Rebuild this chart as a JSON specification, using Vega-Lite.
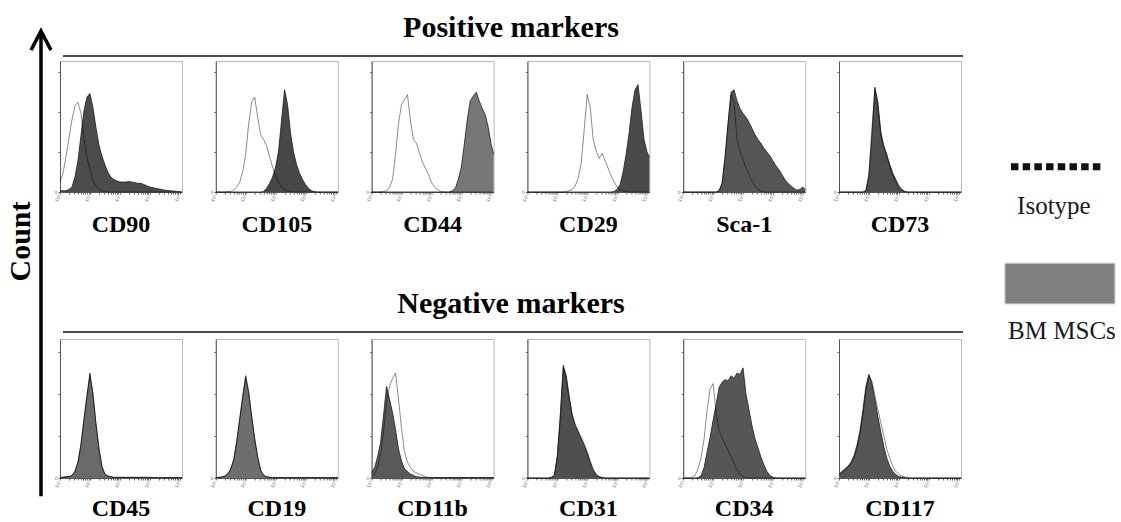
{
  "$schema": "https://vega.github.io/schema/vega-lite/v6.json",
  "background": "white",
  "padding": {"left": 5, "top": 13, "right": 0, "bottom": 0},
  "config": {
    "font": "Liberation Serif",
    "view": {"stroke": "#b8b8b8", "strokeWidth": 1},
    "axis": {"grid": false, "labelFont": "DejaVu Sans", "labelFontSize": 4.5, "labelColor": "#777", "tickColor": "#666", "domainColor": "#555", "tickSize": 2, "labelPadding": 1, "labelOverlap": false, "labelFlush": false}
  },
  "datasets": {
    "pos": [
      {"m":"CD90","lg":0,"iso":8,"bm":1},{"m":"CD90","lg":0.1,"iso":15,"bm":1},{"m":"CD90","lg":0.2,"iso":28,"bm":1},{"m":"CD90","lg":0.3,"iso":43,"bm":2},{"m":"CD90","lg":0.4,"iso":58,"bm":4},{"m":"CD90","lg":0.5,"iso":69,"bm":12},{"m":"CD90","lg":0.6,"iso":72,"bm":25},{"m":"CD90","lg":0.7,"iso":63,"bm":45},{"m":"CD90","lg":0.8,"iso":43,"bm":65},{"m":"CD90","lg":0.9,"iso":28,"bm":76},{"m":"CD90","lg":1,"iso":18,"bm":79},{"m":"CD90","lg":1.1,"iso":9,"bm":68},{"m":"CD90","lg":1.2,"iso":5,"bm":52},{"m":"CD90","lg":1.3,"iso":2,"bm":38},{"m":"CD90","lg":1.4,"iso":1,"bm":29},{"m":"CD90","lg":1.5,"iso":0.5,"bm":22},{"m":"CD90","lg":1.6,"iso":0,"bm":16},{"m":"CD90","lg":1.7,"iso":0,"bm":12},{"m":"CD90","lg":1.8,"iso":0,"bm":10},{"m":"CD90","lg":1.9,"iso":0,"bm":9},{"m":"CD90","lg":2,"iso":0,"bm":8},{"m":"CD90","lg":2.1,"iso":0,"bm":8},{"m":"CD90","lg":2.2,"iso":0,"bm":8},{"m":"CD90","lg":2.3,"iso":0,"bm":8.5},{"m":"CD90","lg":2.4,"iso":0,"bm":8},{"m":"CD90","lg":2.5,"iso":0,"bm":7.5},{"m":"CD90","lg":2.6,"iso":0,"bm":7},{"m":"CD90","lg":2.7,"iso":0,"bm":7},{"m":"CD90","lg":2.8,"iso":0,"bm":6},{"m":"CD90","lg":2.9,"iso":0,"bm":5},{"m":"CD90","lg":3,"iso":0,"bm":4},{"m":"CD90","lg":3.1,"iso":0,"bm":3.5},{"m":"CD90","lg":3.2,"iso":0,"bm":3},{"m":"CD90","lg":3.3,"iso":0,"bm":2.5},{"m":"CD90","lg":3.4,"iso":0,"bm":2},{"m":"CD90","lg":3.5,"iso":0,"bm":1.5},{"m":"CD90","lg":3.6,"iso":0,"bm":1.2},{"m":"CD90","lg":3.7,"iso":0,"bm":1},{"m":"CD90","lg":3.8,"iso":0,"bm":0.8},{"m":"CD90","lg":3.9,"iso":0,"bm":0.5},{"m":"CD90","lg":4,"iso":0,"bm":0.3},{"m":"CD90","lg":4.08,"iso":0,"bm":0},

      {"m":"CD105","lg":0,"iso":0,"bm":0},{"m":"CD105","lg":0.1,"iso":0,"bm":0},{"m":"CD105","lg":0.2,"iso":0,"bm":0},{"m":"CD105","lg":0.3,"iso":0,"bm":0},{"m":"CD105","lg":0.4,"iso":0.3,"bm":0},{"m":"CD105","lg":0.5,"iso":0.5,"bm":0},{"m":"CD105","lg":0.6,"iso":1.5,"bm":0},{"m":"CD105","lg":0.7,"iso":4,"bm":0},{"m":"CD105","lg":0.8,"iso":8,"bm":0},{"m":"CD105","lg":0.9,"iso":16,"bm":0},{"m":"CD105","lg":1,"iso":30,"bm":0},{"m":"CD105","lg":1.1,"iso":55,"bm":0},{"m":"CD105","lg":1.2,"iso":72,"bm":0},{"m":"CD105","lg":1.3,"iso":76,"bm":0},{"m":"CD105","lg":1.4,"iso":60,"bm":0},{"m":"CD105","lg":1.5,"iso":46,"bm":0},{"m":"CD105","lg":1.6,"iso":42,"bm":0.5},{"m":"CD105","lg":1.7,"iso":37,"bm":3},{"m":"CD105","lg":1.8,"iso":28,"bm":7},{"m":"CD105","lg":1.9,"iso":20,"bm":12},{"m":"CD105","lg":2,"iso":13,"bm":20},{"m":"CD105","lg":2.1,"iso":8,"bm":33},{"m":"CD105","lg":2.2,"iso":4,"bm":58},{"m":"CD105","lg":2.3,"iso":2,"bm":82},{"m":"CD105","lg":2.4,"iso":1,"bm":70},{"m":"CD105","lg":2.5,"iso":0.5,"bm":47},{"m":"CD105","lg":2.6,"iso":0,"bm":32},{"m":"CD105","lg":2.7,"iso":0,"bm":22},{"m":"CD105","lg":2.8,"iso":0,"bm":15},{"m":"CD105","lg":2.9,"iso":0,"bm":10},{"m":"CD105","lg":3,"iso":0,"bm":6},{"m":"CD105","lg":3.1,"iso":0,"bm":3},{"m":"CD105","lg":3.2,"iso":0,"bm":1},{"m":"CD105","lg":3.3,"iso":0,"bm":0.3},{"m":"CD105","lg":3.4,"iso":0,"bm":0},{"m":"CD105","lg":3.5,"iso":0,"bm":0},{"m":"CD105","lg":3.6,"iso":0,"bm":0},{"m":"CD105","lg":3.7,"iso":0,"bm":0},{"m":"CD105","lg":3.8,"iso":0,"bm":0},{"m":"CD105","lg":3.9,"iso":0,"bm":0},{"m":"CD105","lg":4,"iso":0,"bm":0},{"m":"CD105","lg":4.08,"iso":0,"bm":0},

      {"m":"CD44","lg":0,"iso":0,"bm":0},{"m":"CD44","lg":0.1,"iso":0,"bm":0},{"m":"CD44","lg":0.2,"iso":0,"bm":0},{"m":"CD44","lg":0.3,"iso":0,"bm":0},{"m":"CD44","lg":0.4,"iso":0.5,"bm":0},{"m":"CD44","lg":0.5,"iso":1,"bm":0},{"m":"CD44","lg":0.6,"iso":4,"bm":0},{"m":"CD44","lg":0.7,"iso":10,"bm":0},{"m":"CD44","lg":0.8,"iso":30,"bm":0},{"m":"CD44","lg":0.9,"iso":55,"bm":0},{"m":"CD44","lg":1,"iso":70,"bm":0},{"m":"CD44","lg":1.1,"iso":74,"bm":0},{"m":"CD44","lg":1.2,"iso":78,"bm":0},{"m":"CD44","lg":1.3,"iso":57,"bm":0},{"m":"CD44","lg":1.4,"iso":42,"bm":0},{"m":"CD44","lg":1.5,"iso":39,"bm":0},{"m":"CD44","lg":1.6,"iso":31,"bm":0},{"m":"CD44","lg":1.7,"iso":24,"bm":0},{"m":"CD44","lg":1.8,"iso":19,"bm":0},{"m":"CD44","lg":1.9,"iso":14,"bm":0},{"m":"CD44","lg":2,"iso":8,"bm":0},{"m":"CD44","lg":2.1,"iso":4,"bm":0},{"m":"CD44","lg":2.2,"iso":2,"bm":0},{"m":"CD44","lg":2.3,"iso":0.5,"bm":0},{"m":"CD44","lg":2.4,"iso":0,"bm":0},{"m":"CD44","lg":2.5,"iso":0,"bm":0},{"m":"CD44","lg":2.6,"iso":0,"bm":0},{"m":"CD44","lg":2.7,"iso":0,"bm":1},{"m":"CD44","lg":2.8,"iso":0,"bm":3},{"m":"CD44","lg":2.9,"iso":0,"bm":10},{"m":"CD44","lg":3,"iso":0,"bm":20},{"m":"CD44","lg":3.1,"iso":0,"bm":38},{"m":"CD44","lg":3.2,"iso":0,"bm":58},{"m":"CD44","lg":3.3,"iso":0,"bm":73},{"m":"CD44","lg":3.4,"iso":0,"bm":77},{"m":"CD44","lg":3.5,"iso":0,"bm":80},{"m":"CD44","lg":3.6,"iso":0,"bm":73},{"m":"CD44","lg":3.7,"iso":0,"bm":67},{"m":"CD44","lg":3.8,"iso":0,"bm":62},{"m":"CD44","lg":3.9,"iso":0,"bm":52},{"m":"CD44","lg":4,"iso":0,"bm":38},{"m":"CD44","lg":4.08,"iso":0,"bm":30},

      {"m":"CD29","lg":0,"iso":0,"bm":0},{"m":"CD29","lg":0.1,"iso":0,"bm":0},{"m":"CD29","lg":0.2,"iso":0,"bm":0},{"m":"CD29","lg":0.3,"iso":0,"bm":0},{"m":"CD29","lg":0.4,"iso":0,"bm":0},{"m":"CD29","lg":0.5,"iso":0,"bm":0},{"m":"CD29","lg":0.6,"iso":0,"bm":0},{"m":"CD29","lg":0.7,"iso":0,"bm":0},{"m":"CD29","lg":0.8,"iso":0,"bm":0},{"m":"CD29","lg":0.9,"iso":0,"bm":0},{"m":"CD29","lg":1,"iso":0,"bm":0},{"m":"CD29","lg":1.1,"iso":0,"bm":0},{"m":"CD29","lg":1.2,"iso":0,"bm":0},{"m":"CD29","lg":1.3,"iso":0.5,"bm":0},{"m":"CD29","lg":1.4,"iso":1,"bm":0},{"m":"CD29","lg":1.5,"iso":2,"bm":0},{"m":"CD29","lg":1.6,"iso":5,"bm":0},{"m":"CD29","lg":1.7,"iso":11,"bm":0},{"m":"CD29","lg":1.8,"iso":23,"bm":0},{"m":"CD29","lg":1.9,"iso":50,"bm":0},{"m":"CD29","lg":2,"iso":78,"bm":0},{"m":"CD29","lg":2.1,"iso":68,"bm":0},{"m":"CD29","lg":2.2,"iso":42,"bm":0},{"m":"CD29","lg":2.3,"iso":33,"bm":0},{"m":"CD29","lg":2.4,"iso":27,"bm":0},{"m":"CD29","lg":2.5,"iso":31,"bm":0},{"m":"CD29","lg":2.6,"iso":25,"bm":0},{"m":"CD29","lg":2.7,"iso":19,"bm":0},{"m":"CD29","lg":2.8,"iso":13,"bm":0},{"m":"CD29","lg":2.9,"iso":8,"bm":0.5},{"m":"CD29","lg":3,"iso":4,"bm":2},{"m":"CD29","lg":3.1,"iso":2,"bm":6},{"m":"CD29","lg":3.2,"iso":1,"bm":16},{"m":"CD29","lg":3.3,"iso":0.3,"bm":30},{"m":"CD29","lg":3.4,"iso":0,"bm":47},{"m":"CD29","lg":3.5,"iso":0,"bm":68},{"m":"CD29","lg":3.6,"iso":0,"bm":82},{"m":"CD29","lg":3.7,"iso":0,"bm":86},{"m":"CD29","lg":3.8,"iso":0,"bm":65},{"m":"CD29","lg":3.9,"iso":0,"bm":42},{"m":"CD29","lg":4,"iso":0,"bm":32},{"m":"CD29","lg":4.08,"iso":0,"bm":28},

      {"m":"Sca-1","lg":0,"iso":0,"bm":0},{"m":"Sca-1","lg":0.1,"iso":0,"bm":0},{"m":"Sca-1","lg":0.2,"iso":0,"bm":0},{"m":"Sca-1","lg":0.3,"iso":0,"bm":0},{"m":"Sca-1","lg":0.4,"iso":0,"bm":0},{"m":"Sca-1","lg":0.5,"iso":0,"bm":0},{"m":"Sca-1","lg":0.6,"iso":0,"bm":0},{"m":"Sca-1","lg":0.7,"iso":0,"bm":0},{"m":"Sca-1","lg":0.8,"iso":0,"bm":0},{"m":"Sca-1","lg":0.9,"iso":0,"bm":0},{"m":"Sca-1","lg":1,"iso":0,"bm":0},{"m":"Sca-1","lg":1.1,"iso":0,"bm":0},{"m":"Sca-1","lg":1.2,"iso":1,"bm":1},{"m":"Sca-1","lg":1.3,"iso":7,"bm":7},{"m":"Sca-1","lg":1.4,"iso":28,"bm":28},{"m":"Sca-1","lg":1.5,"iso":55,"bm":55},{"m":"Sca-1","lg":1.6,"iso":78,"bm":80},{"m":"Sca-1","lg":1.7,"iso":72,"bm":82},{"m":"Sca-1","lg":1.8,"iso":42,"bm":73},{"m":"Sca-1","lg":1.9,"iso":33,"bm":67},{"m":"Sca-1","lg":2,"iso":26,"bm":63},{"m":"Sca-1","lg":2.1,"iso":19,"bm":60},{"m":"Sca-1","lg":2.2,"iso":14,"bm":56},{"m":"Sca-1","lg":2.3,"iso":9,"bm":51},{"m":"Sca-1","lg":2.4,"iso":5,"bm":46},{"m":"Sca-1","lg":2.5,"iso":2,"bm":42},{"m":"Sca-1","lg":2.6,"iso":0.5,"bm":39},{"m":"Sca-1","lg":2.7,"iso":0,"bm":35},{"m":"Sca-1","lg":2.8,"iso":0,"bm":32},{"m":"Sca-1","lg":2.9,"iso":0,"bm":29},{"m":"Sca-1","lg":3,"iso":0,"bm":25},{"m":"Sca-1","lg":3.1,"iso":0,"bm":21},{"m":"Sca-1","lg":3.2,"iso":0,"bm":18},{"m":"Sca-1","lg":3.3,"iso":0,"bm":14},{"m":"Sca-1","lg":3.4,"iso":0,"bm":10},{"m":"Sca-1","lg":3.5,"iso":0,"bm":7},{"m":"Sca-1","lg":3.6,"iso":0,"bm":5},{"m":"Sca-1","lg":3.7,"iso":0,"bm":3},{"m":"Sca-1","lg":3.8,"iso":0,"bm":1.5},{"m":"Sca-1","lg":3.9,"iso":0,"bm":2},{"m":"Sca-1","lg":4,"iso":0,"bm":4},{"m":"Sca-1","lg":4.08,"iso":0,"bm":2},

      {"m":"CD73","lg":0,"iso":0,"bm":0},{"m":"CD73","lg":0.1,"iso":0,"bm":0},{"m":"CD73","lg":0.2,"iso":0,"bm":0},{"m":"CD73","lg":0.3,"iso":0,"bm":0},{"m":"CD73","lg":0.4,"iso":0,"bm":0},{"m":"CD73","lg":0.5,"iso":0,"bm":0},{"m":"CD73","lg":0.6,"iso":0,"bm":0},{"m":"CD73","lg":0.7,"iso":0,"bm":0},{"m":"CD73","lg":0.8,"iso":0,"bm":0},{"m":"CD73","lg":0.9,"iso":1,"bm":1},{"m":"CD73","lg":1,"iso":15,"bm":13},{"m":"CD73","lg":1.1,"iso":50,"bm":45},{"m":"CD73","lg":1.2,"iso":82,"bm":84},{"m":"CD73","lg":1.3,"iso":68,"bm":72},{"m":"CD73","lg":1.4,"iso":45,"bm":48},{"m":"CD73","lg":1.5,"iso":36,"bm":37},{"m":"CD73","lg":1.6,"iso":28,"bm":30},{"m":"CD73","lg":1.7,"iso":20,"bm":22},{"m":"CD73","lg":1.8,"iso":13,"bm":15},{"m":"CD73","lg":1.9,"iso":8,"bm":10},{"m":"CD73","lg":2,"iso":4,"bm":5},{"m":"CD73","lg":2.1,"iso":1.5,"bm":2},{"m":"CD73","lg":2.2,"iso":0.3,"bm":0.5},{"m":"CD73","lg":2.3,"iso":0,"bm":0},{"m":"CD73","lg":2.4,"iso":0,"bm":0},{"m":"CD73","lg":2.5,"iso":0,"bm":0},{"m":"CD73","lg":2.6,"iso":0,"bm":0},{"m":"CD73","lg":2.7,"iso":0,"bm":0},{"m":"CD73","lg":2.8,"iso":0,"bm":0},{"m":"CD73","lg":2.9,"iso":0,"bm":0},{"m":"CD73","lg":3,"iso":0,"bm":0},{"m":"CD73","lg":3.1,"iso":0,"bm":0},{"m":"CD73","lg":3.2,"iso":0,"bm":0},{"m":"CD73","lg":3.3,"iso":0,"bm":0},{"m":"CD73","lg":3.4,"iso":0,"bm":0},{"m":"CD73","lg":3.5,"iso":0,"bm":0},{"m":"CD73","lg":3.6,"iso":0,"bm":0},{"m":"CD73","lg":3.7,"iso":0,"bm":0},{"m":"CD73","lg":3.8,"iso":0,"bm":0},{"m":"CD73","lg":3.9,"iso":0,"bm":0},{"m":"CD73","lg":4,"iso":0,"bm":0},{"m":"CD73","lg":4.08,"iso":0,"bm":0}
    ],
    "neg": [
      {"m":"CD45","lg":0,"iso":0.5,"bm":0.5},{"m":"CD45","lg":0.1,"iso":0.5,"bm":0.5},{"m":"CD45","lg":0.2,"iso":1,"bm":1},{"m":"CD45","lg":0.3,"iso":1,"bm":1},{"m":"CD45","lg":0.4,"iso":2,"bm":2},{"m":"CD45","lg":0.5,"iso":5,"bm":5},{"m":"CD45","lg":0.6,"iso":12,"bm":12},{"m":"CD45","lg":0.7,"iso":26,"bm":25},{"m":"CD45","lg":0.8,"iso":45,"bm":44},{"m":"CD45","lg":0.9,"iso":63,"bm":62},{"m":"CD45","lg":1,"iso":78,"bm":80},{"m":"CD45","lg":1.1,"iso":65,"bm":64},{"m":"CD45","lg":1.2,"iso":42,"bm":42},{"m":"CD45","lg":1.3,"iso":23,"bm":23},{"m":"CD45","lg":1.4,"iso":9,"bm":9},{"m":"CD45","lg":1.5,"iso":3,"bm":3},{"m":"CD45","lg":1.6,"iso":1.5,"bm":1.5},{"m":"CD45","lg":1.7,"iso":1,"bm":1},{"m":"CD45","lg":1.8,"iso":0.5,"bm":0.5},{"m":"CD45","lg":1.9,"iso":0.5,"bm":0.5},{"m":"CD45","lg":2,"iso":0.5,"bm":0.5},{"m":"CD45","lg":2.1,"iso":0.5,"bm":0.5},{"m":"CD45","lg":2.2,"iso":0.5,"bm":0.5},{"m":"CD45","lg":2.3,"iso":0.5,"bm":0.5},{"m":"CD45","lg":2.4,"iso":0.5,"bm":0.5},{"m":"CD45","lg":2.5,"iso":0.5,"bm":0.5},{"m":"CD45","lg":2.6,"iso":0.5,"bm":0.5},{"m":"CD45","lg":2.7,"iso":0.5,"bm":0.5},{"m":"CD45","lg":2.8,"iso":0.5,"bm":0.5},{"m":"CD45","lg":2.9,"iso":0.5,"bm":0.5},{"m":"CD45","lg":3,"iso":0.5,"bm":0.5},{"m":"CD45","lg":3.1,"iso":0.3,"bm":0.3},{"m":"CD45","lg":3.2,"iso":0.3,"bm":0.3},{"m":"CD45","lg":3.3,"iso":0.3,"bm":0.3},{"m":"CD45","lg":3.4,"iso":0.3,"bm":0.3},{"m":"CD45","lg":3.5,"iso":0.3,"bm":0.3},{"m":"CD45","lg":3.6,"iso":0.3,"bm":0.3},{"m":"CD45","lg":3.7,"iso":0.3,"bm":0.3},{"m":"CD45","lg":3.8,"iso":0.3,"bm":0.3},{"m":"CD45","lg":3.9,"iso":0.3,"bm":0.3},{"m":"CD45","lg":4,"iso":0.3,"bm":0.3},{"m":"CD45","lg":4.08,"iso":0.3,"bm":0.3},

      {"m":"CD19","lg":0,"iso":0.3,"bm":0.3},{"m":"CD19","lg":0.1,"iso":0.5,"bm":0.5},{"m":"CD19","lg":0.2,"iso":0.8,"bm":0.8},{"m":"CD19","lg":0.3,"iso":1.5,"bm":1.5},{"m":"CD19","lg":0.4,"iso":3,"bm":3},{"m":"CD19","lg":0.5,"iso":7,"bm":7},{"m":"CD19","lg":0.6,"iso":14,"bm":14},{"m":"CD19","lg":0.7,"iso":28,"bm":28},{"m":"CD19","lg":0.8,"iso":45,"bm":45},{"m":"CD19","lg":0.9,"iso":62,"bm":62},{"m":"CD19","lg":1,"iso":76,"bm":78},{"m":"CD19","lg":1.1,"iso":66,"bm":65},{"m":"CD19","lg":1.2,"iso":47,"bm":47},{"m":"CD19","lg":1.3,"iso":30,"bm":30},{"m":"CD19","lg":1.4,"iso":16,"bm":16},{"m":"CD19","lg":1.5,"iso":6,"bm":6},{"m":"CD19","lg":1.6,"iso":2,"bm":2},{"m":"CD19","lg":1.7,"iso":1,"bm":1},{"m":"CD19","lg":1.8,"iso":0.5,"bm":0.5},{"m":"CD19","lg":1.9,"iso":0.3,"bm":0.3},{"m":"CD19","lg":2,"iso":0.3,"bm":0.3},{"m":"CD19","lg":2.1,"iso":0.3,"bm":0.3},{"m":"CD19","lg":2.2,"iso":0.3,"bm":0.3},{"m":"CD19","lg":2.3,"iso":0.3,"bm":0.3},{"m":"CD19","lg":2.4,"iso":0.3,"bm":0.3},{"m":"CD19","lg":2.5,"iso":0.3,"bm":0.3},{"m":"CD19","lg":2.6,"iso":0.3,"bm":0.3},{"m":"CD19","lg":2.7,"iso":0.3,"bm":0.3},{"m":"CD19","lg":2.8,"iso":0.3,"bm":0.3},{"m":"CD19","lg":2.9,"iso":0.3,"bm":0.3},{"m":"CD19","lg":3,"iso":0.3,"bm":0.3},{"m":"CD19","lg":3.1,"iso":0.3,"bm":0.3},{"m":"CD19","lg":3.2,"iso":0.3,"bm":0.3},{"m":"CD19","lg":3.3,"iso":0.3,"bm":0.3},{"m":"CD19","lg":3.4,"iso":0.3,"bm":0.3},{"m":"CD19","lg":3.5,"iso":0.3,"bm":0.3},{"m":"CD19","lg":3.6,"iso":0.3,"bm":0.3},{"m":"CD19","lg":3.7,"iso":0.3,"bm":0.3},{"m":"CD19","lg":3.8,"iso":0.3,"bm":0.3},{"m":"CD19","lg":3.9,"iso":0.3,"bm":0.3},{"m":"CD19","lg":4,"iso":0.3,"bm":0.3},{"m":"CD19","lg":4.08,"iso":0.3,"bm":0.3},

      {"m":"CD11b","lg":0,"iso":1,"bm":4},{"m":"CD11b","lg":0.1,"iso":3,"bm":8},{"m":"CD11b","lg":0.2,"iso":8,"bm":16},{"m":"CD11b","lg":0.3,"iso":18,"bm":27},{"m":"CD11b","lg":0.4,"iso":35,"bm":48},{"m":"CD11b","lg":0.5,"iso":58,"bm":70},{"m":"CD11b","lg":0.6,"iso":70,"bm":60},{"m":"CD11b","lg":0.7,"iso":76,"bm":50},{"m":"CD11b","lg":0.8,"iso":80,"bm":37},{"m":"CD11b","lg":0.9,"iso":60,"bm":22},{"m":"CD11b","lg":1,"iso":38,"bm":13},{"m":"CD11b","lg":1.1,"iso":20,"bm":7},{"m":"CD11b","lg":1.2,"iso":12,"bm":5},{"m":"CD11b","lg":1.3,"iso":8,"bm":3},{"m":"CD11b","lg":1.4,"iso":5,"bm":2},{"m":"CD11b","lg":1.5,"iso":4,"bm":1},{"m":"CD11b","lg":1.6,"iso":3,"bm":0.7},{"m":"CD11b","lg":1.7,"iso":2,"bm":0.5},{"m":"CD11b","lg":1.8,"iso":1,"bm":0.5},{"m":"CD11b","lg":1.9,"iso":0.5,"bm":0.3},{"m":"CD11b","lg":2,"iso":0.3,"bm":0.3},{"m":"CD11b","lg":2.1,"iso":0.3,"bm":0.3},{"m":"CD11b","lg":2.2,"iso":0.3,"bm":0.3},{"m":"CD11b","lg":2.3,"iso":0.3,"bm":0.3},{"m":"CD11b","lg":2.4,"iso":0.3,"bm":0.3},{"m":"CD11b","lg":2.5,"iso":0.3,"bm":0.3},{"m":"CD11b","lg":2.6,"iso":0.3,"bm":0.3},{"m":"CD11b","lg":2.7,"iso":0.3,"bm":0.3},{"m":"CD11b","lg":2.8,"iso":0.3,"bm":0.3},{"m":"CD11b","lg":2.9,"iso":0.3,"bm":0.3},{"m":"CD11b","lg":3,"iso":0.3,"bm":0.3},{"m":"CD11b","lg":3.1,"iso":0.3,"bm":0.3},{"m":"CD11b","lg":3.2,"iso":0.3,"bm":0.3},{"m":"CD11b","lg":3.3,"iso":0.3,"bm":0.3},{"m":"CD11b","lg":3.4,"iso":0.3,"bm":0.3},{"m":"CD11b","lg":3.5,"iso":0.3,"bm":0.3},{"m":"CD11b","lg":3.6,"iso":0.3,"bm":0.3},{"m":"CD11b","lg":3.7,"iso":0.3,"bm":0.3},{"m":"CD11b","lg":3.8,"iso":0.3,"bm":0.3},{"m":"CD11b","lg":3.9,"iso":0.3,"bm":0.3},{"m":"CD11b","lg":4,"iso":0.3,"bm":0.3},{"m":"CD11b","lg":4.08,"iso":0.3,"bm":0.3},

      {"m":"CD31","lg":0,"iso":0,"bm":0},{"m":"CD31","lg":0.1,"iso":0,"bm":0},{"m":"CD31","lg":0.2,"iso":0,"bm":0},{"m":"CD31","lg":0.3,"iso":0,"bm":0},{"m":"CD31","lg":0.4,"iso":0,"bm":0},{"m":"CD31","lg":0.5,"iso":0,"bm":0},{"m":"CD31","lg":0.6,"iso":0,"bm":0},{"m":"CD31","lg":0.7,"iso":0,"bm":0},{"m":"CD31","lg":0.8,"iso":0.5,"bm":0.5},{"m":"CD31","lg":0.9,"iso":2,"bm":2},{"m":"CD31","lg":1,"iso":15,"bm":17},{"m":"CD31","lg":1.1,"iso":45,"bm":48},{"m":"CD31","lg":1.2,"iso":84,"bm":86},{"m":"CD31","lg":1.3,"iso":75,"bm":78},{"m":"CD31","lg":1.4,"iso":60,"bm":62},{"m":"CD31","lg":1.5,"iso":48,"bm":48},{"m":"CD31","lg":1.6,"iso":41,"bm":40},{"m":"CD31","lg":1.7,"iso":36,"bm":35},{"m":"CD31","lg":1.8,"iso":31,"bm":30},{"m":"CD31","lg":1.9,"iso":26,"bm":25},{"m":"CD31","lg":2,"iso":20,"bm":19},{"m":"CD31","lg":2.1,"iso":13,"bm":12},{"m":"CD31","lg":2.2,"iso":7,"bm":6},{"m":"CD31","lg":2.3,"iso":3,"bm":2.5},{"m":"CD31","lg":2.4,"iso":1,"bm":1},{"m":"CD31","lg":2.5,"iso":0.3,"bm":0.3},{"m":"CD31","lg":2.6,"iso":0,"bm":0},{"m":"CD31","lg":2.7,"iso":0,"bm":0},{"m":"CD31","lg":2.8,"iso":0,"bm":0},{"m":"CD31","lg":2.9,"iso":0,"bm":0},{"m":"CD31","lg":3,"iso":0,"bm":0},{"m":"CD31","lg":3.1,"iso":0,"bm":0},{"m":"CD31","lg":3.2,"iso":0,"bm":0},{"m":"CD31","lg":3.3,"iso":0,"bm":0},{"m":"CD31","lg":3.4,"iso":0,"bm":0},{"m":"CD31","lg":3.5,"iso":0,"bm":0},{"m":"CD31","lg":3.6,"iso":0,"bm":0},{"m":"CD31","lg":3.7,"iso":0,"bm":0},{"m":"CD31","lg":3.8,"iso":0,"bm":0},{"m":"CD31","lg":3.9,"iso":0,"bm":0},{"m":"CD31","lg":4,"iso":0,"bm":0},{"m":"CD31","lg":4.08,"iso":0,"bm":0},

      {"m":"CD34","lg":0,"iso":0,"bm":0},{"m":"CD34","lg":0.1,"iso":0,"bm":0},{"m":"CD34","lg":0.2,"iso":0,"bm":0},{"m":"CD34","lg":0.3,"iso":0.5,"bm":0},{"m":"CD34","lg":0.4,"iso":2,"bm":0},{"m":"CD34","lg":0.5,"iso":7,"bm":0.3},{"m":"CD34","lg":0.6,"iso":16,"bm":2},{"m":"CD34","lg":0.7,"iso":30,"bm":8},{"m":"CD34","lg":0.8,"iso":52,"bm":20},{"m":"CD34","lg":0.9,"iso":68,"bm":31},{"m":"CD34","lg":1,"iso":72,"bm":44},{"m":"CD34","lg":1.1,"iso":50,"bm":56},{"m":"CD34","lg":1.2,"iso":36,"bm":69},{"m":"CD34","lg":1.3,"iso":31,"bm":73},{"m":"CD34","lg":1.4,"iso":26,"bm":75},{"m":"CD34","lg":1.5,"iso":21,"bm":74},{"m":"CD34","lg":1.6,"iso":16,"bm":78},{"m":"CD34","lg":1.7,"iso":11,"bm":76},{"m":"CD34","lg":1.8,"iso":6,"bm":80},{"m":"CD34","lg":1.9,"iso":3,"bm":79},{"m":"CD34","lg":2,"iso":1,"bm":84},{"m":"CD34","lg":2.1,"iso":0.3,"bm":64},{"m":"CD34","lg":2.2,"iso":0,"bm":52},{"m":"CD34","lg":2.3,"iso":0,"bm":40},{"m":"CD34","lg":2.4,"iso":0,"bm":30},{"m":"CD34","lg":2.5,"iso":0,"bm":23},{"m":"CD34","lg":2.6,"iso":0,"bm":16},{"m":"CD34","lg":2.7,"iso":0,"bm":10},{"m":"CD34","lg":2.8,"iso":0,"bm":5},{"m":"CD34","lg":2.9,"iso":0,"bm":2},{"m":"CD34","lg":3,"iso":0,"bm":0.5},{"m":"CD34","lg":3.1,"iso":0,"bm":0},{"m":"CD34","lg":3.2,"iso":0,"bm":0},{"m":"CD34","lg":3.3,"iso":0,"bm":0},{"m":"CD34","lg":3.4,"iso":0,"bm":0},{"m":"CD34","lg":3.5,"iso":0,"bm":0},{"m":"CD34","lg":3.6,"iso":0,"bm":0},{"m":"CD34","lg":3.7,"iso":0,"bm":0},{"m":"CD34","lg":3.8,"iso":0,"bm":0},{"m":"CD34","lg":3.9,"iso":0,"bm":0},{"m":"CD34","lg":4,"iso":0,"bm":0},{"m":"CD34","lg":4.08,"iso":0,"bm":0},

      {"m":"CD117","lg":0,"iso":2,"bm":3},{"m":"CD117","lg":0.1,"iso":4,"bm":5},{"m":"CD117","lg":0.2,"iso":6,"bm":7},{"m":"CD117","lg":0.3,"iso":8,"bm":9},{"m":"CD117","lg":0.4,"iso":11,"bm":12},{"m":"CD117","lg":0.5,"iso":15,"bm":17},{"m":"CD117","lg":0.6,"iso":22,"bm":25},{"m":"CD117","lg":0.7,"iso":33,"bm":36},{"m":"CD117","lg":0.8,"iso":48,"bm":52},{"m":"CD117","lg":0.9,"iso":66,"bm":70},{"m":"CD117","lg":1,"iso":78,"bm":79},{"m":"CD117","lg":1.1,"iso":74,"bm":72},{"m":"CD117","lg":1.2,"iso":63,"bm":60},{"m":"CD117","lg":1.3,"iso":52,"bm":47},{"m":"CD117","lg":1.4,"iso":42,"bm":35},{"m":"CD117","lg":1.5,"iso":32,"bm":24},{"m":"CD117","lg":1.6,"iso":22,"bm":15},{"m":"CD117","lg":1.7,"iso":15,"bm":9},{"m":"CD117","lg":1.8,"iso":9,"bm":5},{"m":"CD117","lg":1.9,"iso":5,"bm":2.5},{"m":"CD117","lg":2,"iso":3,"bm":1.2},{"m":"CD117","lg":2.1,"iso":1.5,"bm":0.5},{"m":"CD117","lg":2.2,"iso":0.8,"bm":0.3},{"m":"CD117","lg":2.3,"iso":0.3,"bm":0},{"m":"CD117","lg":2.4,"iso":0,"bm":0},{"m":"CD117","lg":2.5,"iso":0,"bm":0},{"m":"CD117","lg":2.6,"iso":0,"bm":0},{"m":"CD117","lg":2.7,"iso":0,"bm":0},{"m":"CD117","lg":2.8,"iso":0,"bm":0},{"m":"CD117","lg":2.9,"iso":0,"bm":0},{"m":"CD117","lg":3,"iso":0,"bm":0},{"m":"CD117","lg":3.1,"iso":0,"bm":0},{"m":"CD117","lg":3.2,"iso":0,"bm":0},{"m":"CD117","lg":3.3,"iso":0,"bm":0},{"m":"CD117","lg":3.4,"iso":0,"bm":0},{"m":"CD117","lg":3.5,"iso":0,"bm":0},{"m":"CD117","lg":3.6,"iso":0,"bm":0},{"m":"CD117","lg":3.7,"iso":0,"bm":0},{"m":"CD117","lg":3.8,"iso":0,"bm":0},{"m":"CD117","lg":3.9,"iso":0,"bm":0},{"m":"CD117","lg":4,"iso":0,"bm":0},{"m":"CD117","lg":4.08,"iso":0,"bm":0}
    ]
  },
  "hconcat": [
    {
      "width": 9,
      "height": 438,
      "view": {"stroke": null},
      "data": {"values": [{"axis": "Count"}]},
      "layer": [
        {
          "mark": {"type": "rule", "strokeWidth": 3.5, "color": "#000"},
          "encoding": {
            "x": {"datum": 0, "type": "quantitative", "scale": {"domain": [-1, -0.1], "nice": false, "zero": false}, "axis": null},
            "y": {"datum": -0.5, "type": "quantitative", "scale": {"domain": [0, 100], "nice": false, "zero": false},
                  "axis": {"title": "Count", "labels": false, "ticks": false, "domain": false, "titleFont": "Liberation Serif", "titleFontSize": 30, "titleFontWeight": "bold", "titleColor": "#000", "titlePadding": 2, "titleBaseline": "alphabetic", "titleAlign": "center", "titleY": 185}},
            "y2": {"datum": 105.6}
          }
        },
        {
          "mark": {"type": "point", "shape": "M -1 0.9 L 0 -1 L 1 0.9", "size": 400, "filled": false, "strokeWidth": 3.5, "color": "#000", "opacity": 1, "strokeJoin": "miter"},
          "encoding": {
            "x": {"datum": 0, "type": "quantitative"},
            "y": {"datum": 103.4, "type": "quantitative"}
          }
        }
      ]
    },
    {
      "vconcat": [
        {
          "vconcat": [
            {
              "title": {"text": "Positive markers", "font": "Liberation Serif", "fontSize": 30, "fontWeight": "bold", "color": "#000", "anchor": "middle", "offset": 12, "dx": -2},
              "width": 906,
              "height": 1,
              "view": {"stroke": null},
              "data": {"values": [{"row": "Positive markers"}]},
              "mark": {"type": "rule", "strokeWidth": 1.5, "color": "#111"},
              "encoding": {"x": {"value": 3}, "x2": {"value": 903}, "y": {"value": 0}}
            },
            {
              "data": {"name": "pos"},
              "facet": {"column": {"field": "m", "type": "nominal", "sort": ["CD90", "CD105", "CD44", "CD29", "Sca-1", "CD73"], "title": null,
                "header": {"labelOrient": "bottom", "labelFont": "Liberation Serif", "labelFontSize": 24, "labelFontWeight": "bold", "labelColor": "#000", "labelPadding": 10}}},
              "spacing": 23.8,
              "resolve": {"axis": {"x": "independent", "y": "independent"}},
              "spec": {
                "width": 122,
                "height": 131,
                "encoding": {
                  "x": {"field": "lg", "type": "quantitative", "title": null, "scale": {"domain": [0, 4.08], "nice": false, "zero": false},
                        "axis": {"values": [0, 0.301, 0.477, 0.602, 0.699, 0.778, 0.845, 0.903, 0.954, 1, 1.301, 1.477, 1.602, 1.699, 1.778, 1.845, 1.903, 1.954, 2, 2.301, 2.477, 2.602, 2.699, 2.778, 2.845, 2.903, 2.954, 3, 3.301, 3.477, 3.602, 3.699, 3.778, 3.845, 3.903, 3.954, 4],
                                 "labelExpr": "datum.value == 0 ? '10⁰' : datum.value == 1 ? '10¹' : datum.value == 2 ? '10²' : datum.value == 3 ? '10³' : datum.value == 4 ? '10⁴' : ''",
                                 "labelAngle": -60, "labelAlign": "right", "labelBaseline": "middle"}}
                },
                "layer": [
                  {
                    "mark": {"type": "area", "opacity": 1},
                    "encoding": {
                      "y": {"field": "bm", "type": "quantitative", "title": null, "scale": {"domain": [0, 105], "nice": false},
                            "axis": {"values": [0, 4, 8, 12, 16, 20, 24, 28, 32, 36, 40, 44, 48, 52, 56, 60, 64, 68, 72, 76, 80, 84, 88, 92, 96, 100], "labelExpr": "datum.value % 20 == 0 ? datum.label : ''"}},
                      "color": {"field": "m", "type": "nominal", "legend": null,
                                "scale": {"domain": ["CD90", "CD105", "CD44", "CD29", "Sca-1", "CD73", "CD45", "CD19", "CD11b", "CD31", "CD34", "CD117"],
                                          "range": ["#4b4b4b", "#474747", "#777777", "#4a4a4a", "#555555", "#4e4e4e", "#6a6a6a", "#6e6e6e", "#5a5a5a", "#4f4f4f", "#565656", "#555555"]}}
                    }
                  },
                  {
                    "mark": {"type": "line", "color": "#1e1e1e", "strokeWidth": 0.8},
                    "encoding": {"y": {"field": "bm", "type": "quantitative", "title": null}}
                  },
                  {
                    "mark": {"type": "line", "color": "#000", "strokeWidth": 1, "strokeOpacity": 0.45},
                    "encoding": {"y": {"field": "iso", "type": "quantitative", "title": null}}
                  }
                ]
              }
            }
          ],
          "spacing": 3
        },
        {
          "vconcat": [
            {
              "title": {"text": "Negative markers", "font": "Liberation Serif", "fontSize": 30, "fontWeight": "bold", "color": "#000", "anchor": "middle", "offset": 12, "dx": -2},
              "width": 906,
              "height": 1,
              "view": {"stroke": null},
              "data": {"values": [{"row": "Negative markers"}]},
              "mark": {"type": "rule", "strokeWidth": 1.5, "color": "#111"},
              "encoding": {"x": {"value": 3}, "x2": {"value": 903}, "y": {"value": 0}}
            },
            {
              "data": {"name": "neg"},
              "facet": {"column": {"field": "m", "type": "nominal", "sort": ["CD45", "CD19", "CD11b", "CD31", "CD34", "CD117"], "title": null,
                "header": {"labelOrient": "bottom", "labelFont": "Liberation Serif", "labelFontSize": 24, "labelFontWeight": "bold", "labelColor": "#000", "labelPadding": 8}}},
              "spacing": 23.8,
              "resolve": {"axis": {"x": "independent", "y": "independent"}},
              "spec": {
                "width": 122,
                "height": 139,
                "encoding": {
                  "x": {"field": "lg", "type": "quantitative", "title": null, "scale": {"domain": [0, 4.08], "nice": false, "zero": false},
                        "axis": {"values": [0, 0.301, 0.477, 0.602, 0.699, 0.778, 0.845, 0.903, 0.954, 1, 1.301, 1.477, 1.602, 1.699, 1.778, 1.845, 1.903, 1.954, 2, 2.301, 2.477, 2.602, 2.699, 2.778, 2.845, 2.903, 2.954, 3, 3.301, 3.477, 3.602, 3.699, 3.778, 3.845, 3.903, 3.954, 4],
                                 "labelExpr": "datum.value == 0 ? '10⁰' : datum.value == 1 ? '10¹' : datum.value == 2 ? '10²' : datum.value == 3 ? '10³' : datum.value == 4 ? '10⁴' : ''",
                                 "labelAngle": -60, "labelAlign": "right", "labelBaseline": "middle"}}
                },
                "layer": [
                  {
                    "mark": {"type": "area", "opacity": 1},
                    "encoding": {
                      "y": {"field": "bm", "type": "quantitative", "title": null, "scale": {"domain": [0, 106], "nice": false},
                            "axis": {"values": [0, 4, 8, 12, 16, 20, 24, 28, 32, 36, 40, 44, 48, 52, 56, 60, 64, 68, 72, 76, 80, 84, 88, 92, 96, 100], "labelExpr": "datum.value % 20 == 0 ? datum.label : ''"}},
                      "color": {"field": "m", "type": "nominal", "legend": null,
                                "scale": {"domain": ["CD90", "CD105", "CD44", "CD29", "Sca-1", "CD73", "CD45", "CD19", "CD11b", "CD31", "CD34", "CD117"],
                                          "range": ["#4b4b4b", "#474747", "#777777", "#4a4a4a", "#555555", "#4e4e4e", "#6a6a6a", "#6e6e6e", "#5a5a5a", "#4f4f4f", "#565656", "#555555"]}}
                    }
                  },
                  {
                    "mark": {"type": "line", "color": "#1e1e1e", "strokeWidth": 0.8},
                    "encoding": {"y": {"field": "bm", "type": "quantitative", "title": null}}
                  },
                  {
                    "mark": {"type": "line", "color": "#000", "strokeWidth": 1, "strokeOpacity": 0.45},
                    "encoding": {"y": {"field": "iso", "type": "quantitative", "title": null}}
                  }
                ]
              }
            }
          ],
          "spacing": 5
        }
      ],
      "spacing": 52
    },
    {
      "width": 155,
      "height": 438,
      "view": {"stroke": null},
      "data": {"values": [{"k": "Isotype"}, {"k": "BM MSCs"}]},
      "encoding": {},
      "layer": [
        {
          "transform": [{"filter": "datum.k == 'Isotype'"}],
          "mark": {"type": "rule", "strokeWidth": 7, "strokeDash": [7.5, 4.2], "color": "#111"},
          "encoding": {
            "x": {"datum": 0.290, "type": "quantitative", "scale": {"domain": [0, 1], "nice": false, "zero": false}, "axis": null},
            "x2": {"datum": 0.877},
            "y": {"datum": 25.3, "type": "quantitative", "scale": {"domain": [0, 100], "reverse": true, "nice": false}, "axis": null}
          }
        },
        {
          "transform": [{"filter": "datum.k == 'Isotype'"}],
          "mark": {"type": "text", "font": "Liberation Serif", "fontSize": 25, "color": "#1a1a1a", "align": "center", "baseline": "alphabetic"},
          "encoding": {
            "x": {"datum": 0.567, "type": "quantitative"},
            "y": {"datum": 36.1, "type": "quantitative"},
            "text": {"field": "k"}
          }
        },
        {
          "transform": [{"filter": "datum.k == 'BM MSCs'"}],
          "mark": {"type": "rect", "color": "#808080", "stroke": "#cfcfcf", "strokeWidth": 1},
          "encoding": {
            "x": {"datum": 0.251, "type": "quantitative"},
            "x2": {"datum": 0.961},
            "y": {"datum": 47.3, "type": "quantitative"},
            "y2": {"datum": 56.6}
          }
        },
        {
          "transform": [{"filter": "datum.k == 'BM MSCs'"}],
          "mark": {"type": "text", "font": "Liberation Serif", "fontSize": 25, "color": "#1a1a1a", "align": "center", "baseline": "alphabetic"},
          "encoding": {
            "x": {"datum": 0.619, "type": "quantitative"},
            "y": {"datum": 64.6, "type": "quantitative"},
            "text": {"field": "k"}
          }
        }
      ]
    }
  ],
  "spacing": -5
}
